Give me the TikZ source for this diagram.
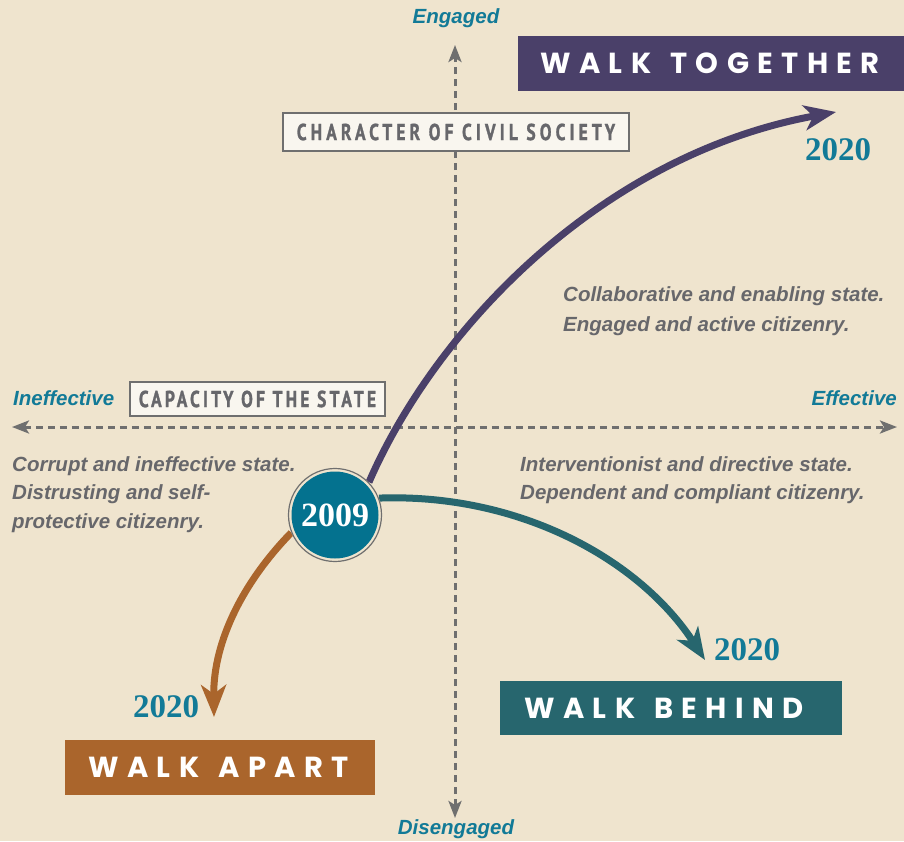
\documentclass[tikz,border=0pt]{standalone}
\usepackage{fontspec}
\usetikzlibrary{arrows.meta}
\setmainfont{Liberation Serif}
\newfontfamily\labfont{Liberation Sans}
\newfontfamily\walkfont{Poppins}[LetterSpace=29]
\newfontfamily\capfont{PT Sans}[FakeStretch=0.76,LetterSpace=18,FakeBold=1.2]
\newfontfamily\capfontb{PT Sans}[FakeStretch=0.76,LetterSpace=14,FakeBold=1.2]
\definecolor{bgc}{HTML}{EFE4CE}
\definecolor{purp}{HTML}{4A4069}
\definecolor{tealdk}{HTML}{27666E}
\definecolor{orng}{HTML}{AA652C}
\definecolor{yearc}{HTML}{127A97}
\definecolor{axc}{HTML}{6F6F6F}
\definecolor{txtc}{HTML}{67676B}
\definecolor{boxc}{HTML}{F9F6EF}
\definecolor{circc}{HTML}{04728F}
\tikzset{
  axis/.style={draw=axc,line width=3pt,dash pattern=on 7pt off 5pt,
     arrows={Stealth[length=17pt,width=13pt,inset=4pt]-Stealth[length=17pt,width=13pt,inset=4pt]}},
  dirlab/.style={text=yearc,font=\labfont\bfseries\itshape\fontsize{20.5}{24}\selectfont,inner sep=0pt},
  desc/.style={text=txtc,font=\labfont\bfseries\itshape\fontsize{20.5}{24}\selectfont,inner sep=0pt},
  capbox/.style={draw=axc,line width=1.2pt,fill=boxc,text=txtc,inner sep=0pt,
     font=\capfont\bfseries\fontsize{23}{25}\selectfont},
  walkbox/.style={text=white,inner sep=0pt,font=\walkfont\bfseries\fontsize{29}{32}\selectfont},
  year/.style={text=yearc,font=\bfseries\fontsize{33}{35}\selectfont,inner sep=0pt},
  curve/.style={line width=7pt,arrows={-Stealth[length=32pt,width=25pt,inset=9pt]}},
}
\begin{document}
\begin{tikzpicture}[x=1pt,y=-1pt]
\fill[bgc] (0,0) rectangle (904,841);
\useasboundingbox (0,0) rectangle (904,841);
% axes
\coordinate (axL) at (12,427);
\coordinate (axR) at (897,427);
\coordinate (axT) at (455,45);
\coordinate (axB) at (455,818);
\draw[axis] (axL) -- (axR);
\draw[axis] (axB) -- (axT);
% axis labels
\node[dirlab] (engaged) at (456,18) {Engaged};
\node[dirlab] (disengaged) at (456,829) {Disengaged};
\node[dirlab,anchor=west] (ineff) at (13,398) {Ineffective};
\node[dirlab,anchor=east] (eff) at (897,398) {Effective};
% boxes
\node[capbox,minimum width=346pt,minimum height=38pt] (civil) at (456,132) {CHARACTER OF CIVIL SOCIETY};
\node[capbox,font=\capfontb\bfseries\fontsize{23}{25}\selectfont,minimum width=255pt,minimum height=34pt] (capacity) at (257.5,399) {CAPACITY OF THE STATE};
% walk boxes
\fill[purp] (518,36) rectangle (904,91);
\node[walkbox,anchor=west] (together) at (540,63.5) {WALK\kern 19pt TOGETHER};
\fill[tealdk] (500,681) rectangle (842,735);
\node[walkbox,anchor=west] (behind) at (524,708) {WALK\kern 19pt BEHIND};
\fill[orng] (65,740) rectangle (375,795);
\node[walkbox,anchor=west] (apart) at (88,767.5) {WALK\kern 19pt APART};
% circle node
\node[circle,minimum size=94pt,inner sep=0pt] (y2009) at (335,515) {};
% curves
\coordinate (tipT) at (836,112);
\coordinate (tipB) at (705,660);
\coordinate (tipA) at (214,717);
\draw[curve,purp] (y2009.44) .. controls (435,330) and (600,155) .. (tipT);
\draw[curve,tealdk] (y2009.21) .. controls (520,493) and (640,560) .. (tipB);
\draw[curve,orng] (y2009.202) .. controls (245,580) and (213,640) .. (tipA);
% circle drawn on top
\fill[bgc] (y2009.center) circle (47pt);
\draw[axc,line width=1.2pt] (y2009.center) circle (46.5pt);
\fill[circc] (y2009.center) circle (43.5pt);
\node[text=white,font=\bfseries\fontsize{34}{36}\selectfont,inner sep=0pt] (t2009) at (335,515) {2009};
% years
\node[year] (yT) at (838,150) {2020};
\node[year] (yB) at (747,650) {2020};
\node[year] (yA) at (166,707) {2020};
% descriptions
\node[desc,anchor=base west] (d1a) at (563,301) {Collaborative and enabling state.};
\node[desc,anchor=base west] (d1b) at (563,331) {Engaged and active citizenry.};
\node[desc,anchor=base west] (d2a) at (520,471) {Interventionist and directive state.};
\node[desc,anchor=base west] (d2b) at (520,499) {Dependent and compliant citizenry.};
\node[desc,anchor=base west] (d3a) at (12,471) {Corrupt and ineffective state.};
\node[desc,anchor=base west] (d3b) at (12,499) {Distrusting and self-};
\node[desc,anchor=base west] (d3c) at (12,528) {protective citizenry.};
\end{tikzpicture}
\end{document}
